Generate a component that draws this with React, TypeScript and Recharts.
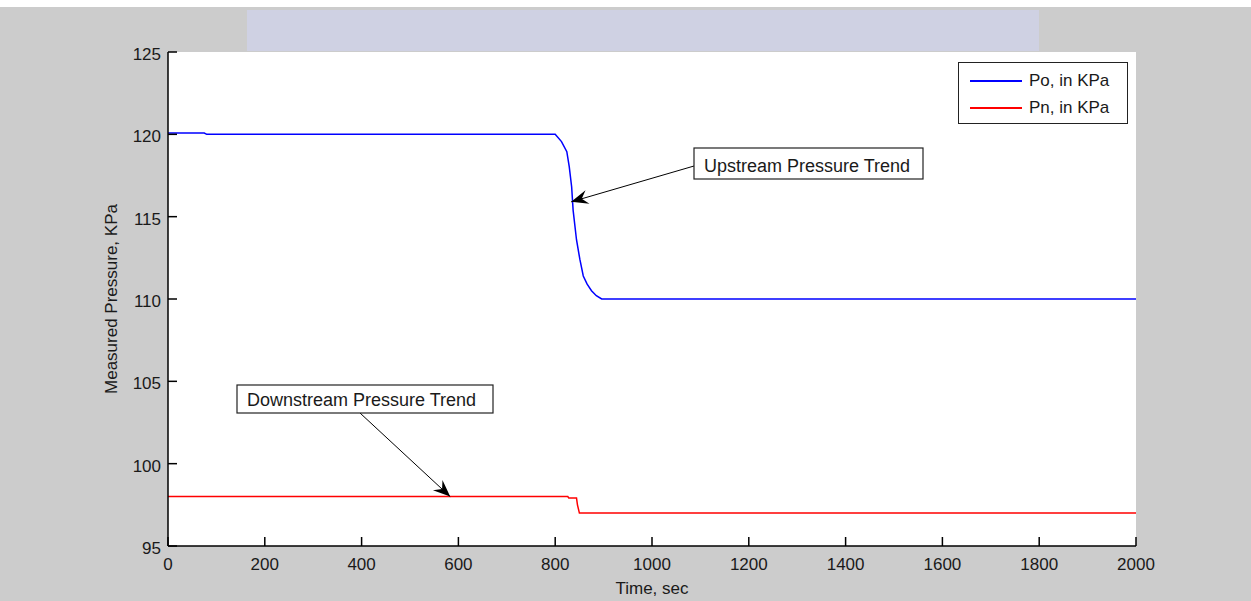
import React from 'react';
import { LineChart, Line, XAxis, YAxis, CartesianGrid, Legend } from 'recharts';

// Upstream pressure Po (KPa) over time (sec)
const poTime = [0, 75, 80, 800, 813, 824, 829, 834, 837, 844, 851, 858, 866, 875, 885, 896, 2000];
const poValue = [120.08, 120.08, 120.0, 120.0, 119.56, 118.95, 118.04, 116.8, 115.4, 113.6, 112.4, 111.4, 110.9, 110.5, 110.2, 110.0, 110.0];

// Downstream pressure Pn (KPa) over time (sec)
const pnTime = [0, 826, 828, 844, 846, 850, 2000];
const pnValue = [98.0, 98.0, 97.92, 97.92, 97.5, 97.0, 97.0];

const xTicks = [0, 200, 400, 600, 800, 1000, 1200, 1400, 1600, 1800, 2000];
const yTicks = [95, 100, 105, 110, 115, 120, 125];

const seriesNames = ['Po, in KPa', 'Pn, in KPa'];

const poData = poTime.map((t, i) => ({ t, v: poValue[i] }));
const pnData = pnTime.map((t, i) => ({ t, v: pnValue[i] }));

const FONT = '"Liberation Sans", Arial, sans-serif';
const TXT = '#1a1a1a';

// plot box (px) used only to place the annotations
const PL = 168, PT = 52, PR = 1136, PB = 546;
const sx = (t: number) => PL + (t / 2000) * (PR - PL);
const sy = (v: number) => PB - ((v - 95) / 30) * (PB - PT);

const YTick = (p: any) => (
  <g>
    <line x1={p.x} y1={p.y} x2={p.x + 9} y2={p.y} stroke="#000" strokeWidth={1.5} />
    <text x={p.x - 7} y={p.y + 8} textAnchor="end" fontSize={17} fontFamily={FONT} fill={TXT}>
      {p.payload.value}
    </text>
  </g>
);

const XTick = (p: any) => (
  <g>
    <line x1={p.x} y1={p.y} x2={p.x} y2={p.y - 9} stroke="#000" strokeWidth={1.5} />
    <text x={p.x} y={p.y + 24} textAnchor="middle" fontSize={17} fontFamily={FONT} fill={TXT}>
      {p.payload.value}
    </text>
  </g>
);

const arrowHead = (x1: number, y1: number, x2: number, y2: number) => {
  const a = Math.atan2(y2 - y1, x2 - x1);
  const L = 17, w = 7, n = 11;
  const ux = Math.cos(a), uy = Math.sin(a);
  const px = -uy, py = ux;
  const pts = [
    [x2, y2],
    [x2 - ux * L + px * w, y2 - uy * L + py * w],
    [x2 - ux * n, y2 - uy * n],
    [x2 - ux * L - px * w, y2 - uy * L - py * w],
  ];
  return pts.map((q) => q.join(',')).join(' ');
};

const Annotation = ({ bx, by, bw, bh, text, fx, fy, tx, ty }: any) => (
  <g>
    <line x1={fx} y1={fy} x2={tx} y2={ty} stroke="#000" strokeWidth={1} />
    <polygon points={arrowHead(fx, fy, tx, ty)} fill="#000" />
    <rect x={bx} y={by} width={bw} height={bh} fill="#fff" stroke="#222" strokeWidth={1.2} />
    <text x={bx + 10} y={by + bh - 7} fontSize={18} fontFamily={FONT} fill={TXT}>{text}</text>
  </g>
);

const LegendBox = ({ payload }: any) => {
  const items = seriesNames
    .map((n) => (payload || []).find((e: any) => e.value === n))
    .filter(Boolean);
  return (
    <div style={{ width: 170, height: 62, boxSizing: 'border-box', border: '1.5px solid #222', background: '#fff', position: 'relative' }}>
      {items.map((e: any, i: number) => (
        <div key={i} style={{ position: 'absolute', left: 11, top: 6 + i * 27, height: 24, display: 'flex', alignItems: 'center' }}>
          <div style={{ width: 52, height: 0, borderTop: `2px solid ${e.color}` }} />
          <span style={{ marginLeft: 7, fontSize: 17, fontFamily: FONT, color: TXT }}>{e.value}</span>
        </div>
      ))}
    </div>
  );
};

export default function App() {
  return (
    <div style={{ position: 'absolute', left: 0, top: 0, width: 1251, height: 601, background: '#cccccc', overflow: 'hidden' }}>
      <div style={{ position: 'absolute', left: 0, top: 0, width: 1251, height: 7, background: '#fff' }} />
      <div style={{ position: 'absolute', left: 247, top: 10, width: 792, height: 41, background: '#cfd1e3' }} />
      <LineChart width={1251} height={601} margin={{ top: 52, right: 115, bottom: 5, left: 108 }}>
        <CartesianGrid horizontal={false} vertical={false} fill="#fff" />
        <XAxis
          dataKey="t"
          type="number"
          domain={[0, 2000]}
          ticks={xTicks}
          height={50}
          tickSize={0}
          tickMargin={0}
          tick={(p: any) => <XTick {...p} />}
          axisLine={{ stroke: '#000', strokeWidth: 1.5 }}
          label={{ value: 'Time, sec', position: 'insideBottom', offset: 2, fontSize: 17, fontFamily: FONT, fill: TXT }}
        />
        <YAxis
          type="number"
          domain={[95, 125]}
          ticks={yTicks}
          width={60}
          tickSize={0}
          tickMargin={0}
          tick={(p: any) => <YTick {...p} />}
          axisLine={{ stroke: '#000', strokeWidth: 1.5 }}
          label={{
            content: ({ viewBox }: any) => (
              <text
                x={viewBox.x + 9}
                y={viewBox.y + viewBox.height / 2}
                transform={`rotate(-90 ${viewBox.x + 9} ${viewBox.y + viewBox.height / 2})`}
                textAnchor="middle"
                fontSize={17}
                fontFamily={FONT}
                fill={TXT}
              >
                Measured Pressure, KPa
              </text>
            ),
          }}
        />
        <Legend
          layout="horizontal"
          verticalAlign="middle"
          align="center"
          content={(p: any) => <LegendBox {...p} />}
          wrapperStyle={{ left: 958, top: 62, width: 170, height: 62 }}
        />
        <Line data={poData} dataKey="v" name={seriesNames[0]} type="linear" stroke="#0000ff" strokeWidth={1.5} dot={false} isAnimationActive={false} />
        <Line data={pnData} dataKey="v" name={seriesNames[1]} type="linear" stroke="#ff0000" strokeWidth={1.5} dot={false} isAnimationActive={false} />
      </LineChart>
      <svg width={1251} height={601} style={{ position: 'absolute', left: 0, top: 0, pointerEvents: 'none' }}>
        <Annotation bx={694} by={148} bw={229} bh={31} text="Upstream Pressure Trend" fx={694} fy={166} tx={sx(833)} ty={sy(115.9)} />
        <Annotation bx={237} by={385} bw={256} bh={28} text="Downstream Pressure Trend" fx={360} fy={413} tx={sx(583)} ty={sy(98)} />
      </svg>
    </div>
  );
}
